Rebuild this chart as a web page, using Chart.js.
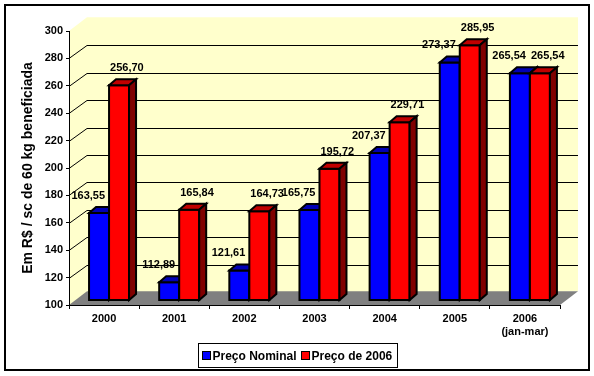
<!DOCTYPE html>
<html><head><meta charset="utf-8">
<script src="https://cdn.jsdelivr.net/npm/chart.js@4/dist/chart.umd.min.js"></script>
<style>html,body{margin:0;padding:0;background:#fff}canvas{display:block}</style>
</head><body>
<canvas id="c" width="594" height="376"></canvas>
<script>
const categories = ['2000', '2001', '2002', '2003', '2004', '2005', ['2006', '(jan-mar)']];
const nominalPrice = [163.55, 112.89, 121.61, 165.75, 207.37, 273.37, 265.54];
const price2006 = [256.70, 165.84, 164.73, 195.72, 229.71, 285.95, 265.54];
const seriesNames = ['Preço Nominal', 'Preço de 2006'];
const yAxisTitle = 'Em R$ / sc de 60 kg beneficiada';
const yMin = 100, yMax = 300, yStep = 20;

const FONT = '"Liberation Sans", Arial, Helvetica, sans-serif';
const WALL_DX = 18, WALL_DY = 13.7;
const BAR_DX = 7, BAR_DY = 6;
const faces = [
  {front: '#0000FF', top: '#0000B4', side: '#000080'},
  {front: '#FF0000', top: '#C00000', side: '#800000'}
];
const fmt = v => v.toFixed(2).replace('.', ',');

const wallPlugin = {
  id: 'wall',
  beforeDraw(chart) {
    const ctx = chart.ctx, x = chart.scales.x, y = chart.scales.y;
    ctx.save();
    ctx.fillStyle = '#fff';
    ctx.fillRect(0, 0, chart.width, chart.height);
    const L = x.left, R = x.right, T = y.getPixelForValue(yMax), B = y.getPixelForValue(yMin);
    ctx.fillStyle = '#FFFFCC';
    ctx.beginPath();
    ctx.moveTo(L, T); ctx.lineTo(L + WALL_DX, T - WALL_DY); ctx.lineTo(R + WALL_DX, T - WALL_DY);
    ctx.lineTo(R + WALL_DX, B - WALL_DY); ctx.lineTo(L, B); ctx.closePath(); ctx.fill();
    ctx.fillStyle = '#808080';
    ctx.beginPath();
    ctx.moveTo(L, B); ctx.lineTo(R, B); ctx.lineTo(R + WALL_DX, B - WALL_DY); ctx.lineTo(L + WALL_DX, B - WALL_DY);
    ctx.closePath(); ctx.fill();
    ctx.strokeStyle = '#000'; ctx.lineWidth = 1;
    for (let v = yMin + yStep; v < yMax; v += yStep) {
      const py = Math.round(y.getPixelForValue(v)) + 0.5;
      const by = Math.round(py - WALL_DY) + 0.5;
      ctx.beginPath();
      ctx.moveTo(L, py); ctx.lineTo(L + WALL_DX, by); ctx.lineTo(R + WALL_DX, by);
      ctx.stroke();
    }
    ctx.restore();
  }
};

const barsPlugin = {
  id: 'bars3d',
  afterDatasetsDraw(chart) {
    const ctx = chart.ctx;
    const metas = [chart.getDatasetMeta(0), chart.getDatasetMeta(1)];
    ctx.save();
    ctx.lineWidth = 2; ctx.strokeStyle = '#000'; ctx.lineJoin = 'miter';
    const boxes = [];
    for (let i = 0; i < categories.length; i++) {
      for (let d = 0; d < 2; d++) {
        const el = metas[d].data[i];
        const p = el.getProps(['x', 'y', 'base', 'width'], true);
        const l = p.x - p.width / 2, r = p.x + p.width / 2, t = p.y, b = p.base;
        boxes.push({d, l, r, t, v: chart.data.datasets[d].data[i].y});
        const f = faces[d];
        ctx.fillStyle = f.front;
        ctx.beginPath(); ctx.rect(l, t, r - l, b - t); ctx.fill(); ctx.stroke();
        ctx.fillStyle = f.top;
        ctx.beginPath();
        ctx.moveTo(l, t); ctx.lineTo(l + BAR_DX, t - BAR_DY); ctx.lineTo(r + BAR_DX, t - BAR_DY); ctx.lineTo(r, t);
        ctx.closePath(); ctx.fill(); ctx.stroke();
        ctx.fillStyle = f.side;
        ctx.beginPath();
        ctx.moveTo(r, t); ctx.lineTo(r + BAR_DX, t - BAR_DY); ctx.lineTo(r + BAR_DX, b - BAR_DY); ctx.lineTo(r, b);
        ctx.closePath(); ctx.fill(); ctx.stroke();
      }
    }
    ctx.fillStyle = '#000';
    ctx.font = 'bold 11px ' + FONT;
    ctx.textBaseline = 'alphabetic';
    boxes.forEach(bx => {
      if (bx.d === 0) { ctx.textAlign = 'right'; ctx.fillText(fmt(bx.v), bx.r - 4, bx.t - 14); }
      else { ctx.textAlign = 'left'; ctx.fillText(fmt(bx.v), bx.l + 1, bx.t - 14); }
    });
    ctx.restore();
  }
};

const frameLegendPlugin = {
  id: 'frameLegend',
  afterDraw(chart) {
    const ctx = chart.ctx;
    ctx.save();
    ctx.font = 'bold 12px ' + FONT;
    const w0 = ctx.measureText(seriesNames[0]).width, w1 = ctx.measureText(seriesNames[1]).width;
    const box = 8, gap = 2, between = 5, padL = 4, padR = 5;
    const total = padL + box + gap + w0 + between + box + gap + w1 + padR;
    const left = Math.round(chart.width / 2 - total / 2) + 0.5;
    const top = 343.5, h = 24;
    ctx.fillStyle = '#fff';
    ctx.fillRect(left, top, total, h);
    ctx.strokeStyle = '#000'; ctx.lineWidth = 1;
    ctx.strokeRect(left, top, Math.round(total), h);
    let cx = left + padL;
    const cy = top + h / 2;
    ctx.textBaseline = 'middle'; ctx.textAlign = 'left';
    [w0, w1].forEach((w, k) => {
      ctx.fillStyle = faces[k].front;
      ctx.fillRect(cx, cy - 4, box, box);
      ctx.strokeRect(cx, cy - 4, box, box);
      ctx.fillStyle = '#000';
      ctx.fillText(seriesNames[k], cx + box + gap, cy + 1);
      cx += box + gap + w + between;
    });
    ctx.lineWidth = 2;
    ctx.strokeRect(5, 5, 584, 365);
    ctx.restore();
  }
};

const tickFont = {family: FONT, size: 11, weight: 'bold'};
new Chart(document.getElementById('c'), {
  type: 'bar',
  data: {
    labels: categories,
    datasets: [
      {label: seriesNames[0], data: categories.map((c, i) => ({x: i, y: nominalPrice[i]})),
       xAxisID: 'xb', yAxisID: 'yb', backgroundColor: faces[0].front, borderColor: '#000', borderWidth: 2,
       barThickness: 20, base: yMin},
      {label: seriesNames[1], data: categories.map((c, i) => ({x: i, y: price2006[i]})),
       xAxisID: 'xb', yAxisID: 'yb', backgroundColor: faces[1].front, borderColor: '#000', borderWidth: 2,
       barThickness: 20, base: yMin}
    ]
  },
  options: {
    responsive: false, animation: false, devicePixelRatio: 1,
    layout: {padding: {left: 0, top: 31, right: 34, bottom: 31}},
    plugins: {legend: {display: false}, tooltip: {enabled: false}},
    scales: {
      x: {type: 'category', position: 'bottom', offset: true,
          grid: {offset: true, drawOnChartArea: false, color: '#000', tickLength: 4, lineWidth: 1},
          border: {color: '#000', width: 1},
          ticks: {color: '#000', font: tickFont, padding: 3, autoSkip: false, maxRotation: 0, minRotation: 0},
          afterFit(s) { s.height = 40; }},
      y: {type: 'linear', position: 'left', min: yMin, max: yMax,
          grid: {drawOnChartArea: false, color: '#000', tickLength: 3, lineWidth: 1},
          border: {color: '#000', width: 1},
          ticks: {stepSize: yStep, color: '#000', font: tickFont, padding: 3},
          title: {display: true, text: yAxisTitle, color: '#000',
                  font: {family: FONT, size: 14, weight: 'bold'}, padding: {top: 20, bottom: 0}},
          afterFit(s) { s.width = 69; }},
      xb: {type: 'linear', display: false, bounds: 'data', offset: false, grid: {offset: false},
           min: -0.5 - 0.071, max: categories.length - 0.5 - 0.071},
      yb: {type: 'linear', display: false, bounds: 'data', min: yMin - 3.65, max: yMax - 3.65}
    }
  },
  plugins: [wallPlugin, barsPlugin, frameLegendPlugin]
});
</script>
</body></html>
